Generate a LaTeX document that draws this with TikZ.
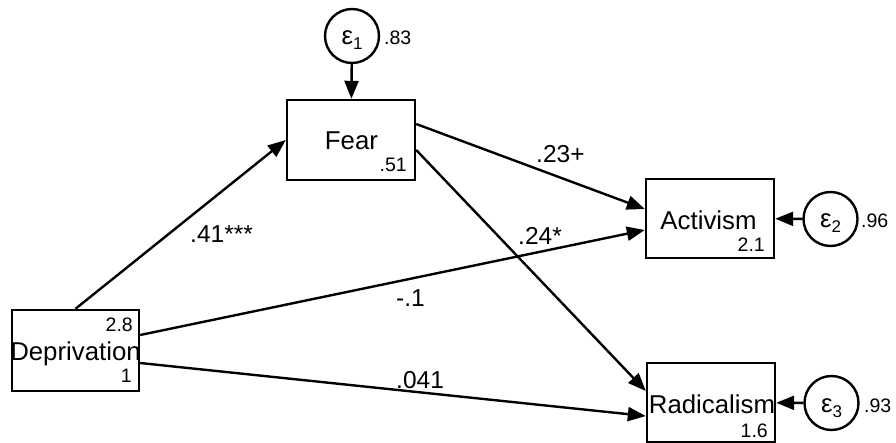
\documentclass[tikz,border=0pt]{standalone}
\usepackage{fontspec}
\setmainfont{Liberation Sans}
\usetikzlibrary{arrows.meta,calc}
\begin{document}
\begin{tikzpicture}[x=1pt,y=-1pt,
  box/.style={draw,line width=2.4pt,minimum width=128pt,minimum height=80pt,inner sep=0pt},
  err/.style={draw,circle,line width=2.4pt,minimum size=54pt,inner sep=0pt},
  big/.style={font=\fontsize{25.8}{30}\selectfont,inner sep=0pt},
  lab/.style={font=\fontsize{24.5}{28}\selectfont,inner sep=0pt},
  small/.style={font=\fontsize{19.5}{22}\selectfont,inner sep=0pt},
  conn/.style={line width=2.4pt,-{Triangle[length=18pt,width=14pt]}}]
\useasboundingbox (0,0) rectangle (896,443);
% boxes
\node[box] (fear) at (351,140) {};
\node[box,minimum height=81pt,minimum width=127pt] (dep) at (75.5,350.5) {};
\node[box,minimum height=79pt] (act) at (710,218.5) {};
\node[box,minimum height=79pt] (rad) at (711,402.5) {};
% error circles
\node[err] (e1) at (352,36) {};
\node[err] (e2) at (830.5,219) {};
\node[err] (e3) at (831.5,403) {};
% box texts
\node[big,anchor=base] (fearT) at (351.5,150) {Fear};
\node[big,anchor=base] (depT) at (75.5,360) {Deprivation};
\node[big,anchor=base] (actT) at (708.5,230) {Activism};
\node[big,anchor=base] (radT) at (712,413) {Radicalism};
\node[small,anchor=base east] (fearN) at (407,172) {.51};
\node[small,anchor=base east] (depN1) at (133,331) {2.8};
\node[small,anchor=base east] (depN2) at (132,382) {1};
\node[small,anchor=base east] (actN) at (765,252) {2.1};
\node[small,anchor=base east] (radN) at (768,437) {1.6};
% error texts
\node[big,anchor=base] (e1T) at (352,45) {ε\raisebox{-5pt}{\fontsize{17}{19}\selectfont 1}};
\node[big,anchor=base] (e2T) at (830.5,228) {ε\raisebox{-5pt}{\fontsize{17}{19}\selectfont 2}};
\node[big,anchor=base] (e3T) at (831.5,412) {ε\raisebox{-5pt}{\fontsize{17}{19}\selectfont 3}};
\node[small,anchor=base west] (e1N) at (384,45) {.83};
\node[small,anchor=base west] (e2N) at (861,228) {.96};
\node[small,anchor=base west] (e3N) at (864,412) {.93};
% connectors
\draw[conn] (e1) -- (fear);
\draw[conn] (e2) -- (act);
\draw[conn] (e3) -- (rad);
\draw[conn] (dep.north) -- (fear.west);
\draw[conn] ([yshift=16pt]fear.east) -- ([yshift=9.5pt]act.west);
\draw[conn] ([yshift=-10pt]fear.east) -- ([yshift=11.5pt]rad.west);
\draw[conn] ([yshift=15.5pt]dep.east) -- ([yshift=-11.5pt]act.west);
\draw[conn] ([yshift=-12.5pt]dep.east) -- ([yshift=-13.5pt]rad.west);
% path labels
\node[lab,anchor=base west] (l1) at (190,243) {.41***};
\node[lab,anchor=base west] (l2) at (536,163) {.23+};
\node[lab,anchor=base west] (l3) at (518,245) {.24*};
\node[lab,anchor=base west] (l4) at (396,307) {-.1};
\node[lab,anchor=base west] (l5) at (396,388) {.041};
\end{tikzpicture}
\end{document}
